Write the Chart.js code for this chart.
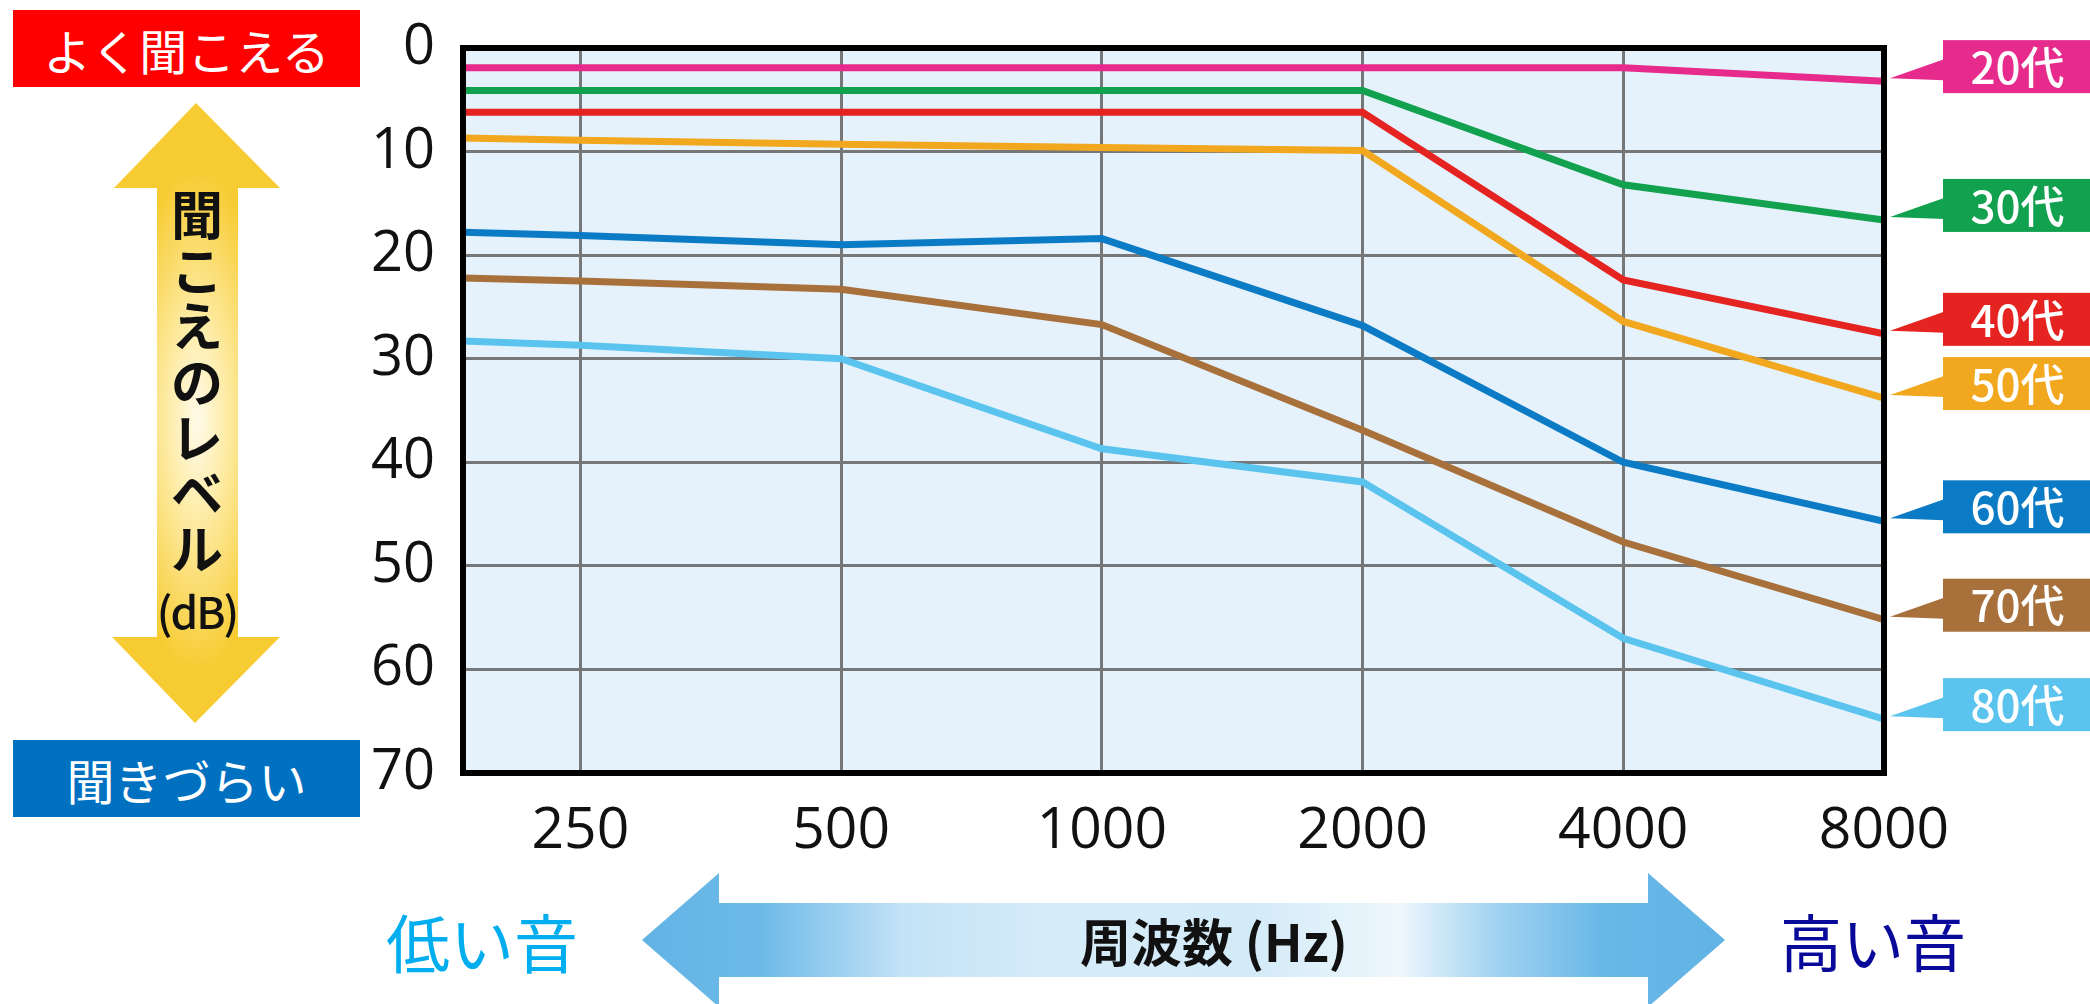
<!DOCTYPE html>
<html lang="ja">
<head>
<meta charset="utf-8">
<title>年代別の聞こえのレベル</title>
<script src="https://cdn.jsdelivr.net/npm/chart.js@4.4.1/dist/chart.umd.min.js"></script>
<style>
html,body{margin:0;padding:0;background:#fff;}
#stage{position:relative;width:2090px;height:1004px;overflow:hidden;font-family:"Noto Sans CJK JP","Noto Sans",sans-serif;}
#chart{position:absolute;left:0;top:0;}
svg.deco{position:absolute;left:0;top:0;}
.lbl{position:absolute;white-space:nowrap;line-height:1;transform:translate(-50%,-50%);}
.box{position:absolute;display:flex;align-items:center;justify-content:center;color:#fff;font-size:48px;line-height:1;}
.vcol{position:absolute;left:197px;top:185px;transform:translateX(-50%);display:flex;flex-direction:column;align-items:center;font-weight:700;color:#111;}
.vcol span{display:block;font-size:52px;line-height:55.7px;height:55.7px;}
.vcol span.unit{font-size:44px;font-weight:500;letter-spacing:-2px;margin-top:8px;}
</style>
</head>
<body>
<div id="stage">
  <svg class="deco" width="2090" height="1004" viewBox="0 0 2090 1004">
    <defs>
      <radialGradient id="yellowGrad" gradientUnits="userSpaceOnUse" cx="0" cy="0" r="1" gradientTransform="translate(197 420) scale(75 250)">
        <stop offset="0" stop-color="#fffbea"/>
        <stop offset="0.45" stop-color="#fde99c"/>
        <stop offset="1" stop-color="#f7cc33"/>
      </radialGradient>
      <linearGradient id="blueGrad" gradientUnits="userSpaceOnUse" x1="642" y1="0" x2="1725" y2="0">
        <stop offset="0" stop-color="#62b3e5"/>
        <stop offset="0.11" stop-color="#6dbae8"/>
        <stop offset="0.24" stop-color="#c3e2f6"/>
        <stop offset="0.38" stop-color="#d6ecf9"/>
        <stop offset="0.56" stop-color="#d3eaf8"/>
        <stop offset="0.70" stop-color="#eef7fc"/>
        <stop offset="0.79" stop-color="#a0d2f1"/>
        <stop offset="0.89" stop-color="#67b7e7"/>
        <stop offset="1" stop-color="#62b3e5"/>
      </linearGradient>
    </defs>
    <!-- vertical level arrow -->
    <polygon fill="url(#yellowGrad)" points="196,103 280,188 238,188 238,637 280,637 195,723 112,637 157,637 157,188 114,188"/>
    <!-- horizontal frequency arrow -->
    <polygon fill="url(#blueGrad)" points="642,940 719,873 719,903 1648,903 1648,873 1725,940 1648,1007 1648,977 719,977 719,1007"/>
  </svg>

  <canvas id="chart" width="2090" height="1004"></canvas>

  <div class="box" style="left:13px;top:10px;width:347px;height:77px;background:#ff0000;">よく聞こえる</div>
  <div class="box" style="left:13px;top:740px;width:347px;height:77px;background:#0070c0;">聞きづらい</div>

  <div class="vcol">
    <span>聞</span><span>こ</span><span>え</span><span>の</span><span>レ</span><span>ベ</span><span>ル</span><span class="unit">(dB)</span>
  </div>

  <div class="lbl" style="left:482px;top:940px;font-size:64px;color:#00aeef;">低い音</div>
  <div class="lbl" style="left:1873px;top:940px;font-size:62px;color:#0a0a9a;">高い音</div>
  <div class="lbl" style="left:1214px;top:940px;font-size:51px;font-weight:700;color:#111;">周波数 (Hz)</div>
</div>

<script>
// Frequency axis (Hz): tick labels and the frequencies where each curve was read
const freqTicks = [250, 500, 1000, 2000, 4000, 8000];
const freqStart = 183;              // left end of the frequency axis
const sampleFreqs = [183, 250, 500, 1000, 2000, 4000, 8000];

// Hearing level (dB) by age group, at sampleFreqs
const ageLabels = ['20代', '30代', '40代', '50代', '60代', '70代', '80代'];
const level20s = [1.9, 1.9, 1.9, 1.9, 1.9, 1.9, 3.2];
const level30s = [4.1, 4.1, 4.1, 4.1, 4.1, 13.2, 16.6];
const level40s = [6.2, 6.2, 6.2, 6.2, 6.2, 22.4, 27.6];
const level50s = [8.7, 8.9, 9.3, 9.6, 9.9, 26.4, 33.8];
const level60s = [17.8, 18.1, 19.0, 18.4, 26.8, 40.0, 45.7];
const level70s = [22.2, 22.5, 23.3, 26.7, 36.9, 47.7, 55.2];
const level80s = [28.3, 28.7, 30.0, 38.7, 41.9, 57.0, 64.8];

const levelTicks = [0, 10, 20, 30, 40, 50, 60, 70];

const seriesColors = ['#e62b8c', '#12a24f', '#e52421', '#f2a81e', '#0c7bc5', '#a8703b', '#5ac4ef'];
const allLevels = [level20s, level30s, level40s, level50s, level60s, level70s, level80s];

// octaves above 250 Hz
const octave = f => Math.log2(f / freqTicks[0]);

const datasets = ageLabels.map((label, i) => ({
  label,
  data: allLevels[i].map((v, k) => ({ x: octave(sampleFreqs[k]), y: v })),
  borderColor: seriesColors[i],
  backgroundColor: seriesColors[i],
  borderWidth: 7,
  pointRadius: 0,
  tension: 0,
  fill: false
}));

const plotBackground = {
  id: 'plotBackground',
  beforeDraw(chart) {
    const { ctx, chartArea: a } = chart;
    ctx.save();
    ctx.fillStyle = '#e5f2fb';
    ctx.fillRect(a.left, a.top, a.right - a.left, a.bottom - a.top);
    ctx.restore();
  }
};

const plotFrame = {
  id: 'plotFrame',
  afterDatasetsDraw(chart) {
    const { ctx, chartArea: a } = chart;
    ctx.save();
    ctx.strokeStyle = '#000';
    ctx.lineWidth = 6;
    ctx.strokeRect(a.left, a.top, a.right - a.left, a.bottom - a.top);
    ctx.restore();
  }
};

// age tags at the right end of each curve
const ageTags = {
  id: 'ageTags',
  afterDraw(chart) {
    const { ctx, chartArea: a } = chart;
    const tipX = a.right + 6;
    const boxL = a.right + 59;
    const boxR = chart.width;
    ctx.save();
    chart.data.datasets.forEach((ds, i) => {
      const meta = chart.getDatasetMeta(i);
      const last = meta.data[meta.data.length - 1];
      const tip = last.y - 4;
      ctx.fillStyle = ds.borderColor;
      ctx.beginPath();
      ctx.moveTo(tipX, tip + 1);
      ctx.lineTo(boxL + 1, tip - 18);
      ctx.lineTo(boxL + 1, tip + 3);
      ctx.closePath();
      ctx.fill();
      ctx.fillRect(boxL, tip - 37, boxR - boxL, 53);
      ctx.fillStyle = '#fff';
      ctx.font = '500 44px "Noto Sans CJK JP"';
      ctx.textAlign = 'center';
      ctx.textBaseline = 'middle';
      ctx.fillText(ds.label, (boxL + boxR) / 2 + 1, tip - 10);
    });
    ctx.restore();
  }
};

new Chart(document.getElementById('chart'), {
  type: 'line',
  data: { datasets },
  plugins: [plotBackground, plotFrame, ageTags],
  options: {
    responsive: false,
    devicePixelRatio: 1,
    animation: false,
    events: [],
    layout: { padding: { left: 0, top: 48, right: 206, bottom: 0 } },
    plugins: { legend: { display: false }, tooltip: { enabled: false } },
    scales: {
      x: {
        type: 'linear',
        position: 'bottom',
        min: octave(freqStart),
        max: octave(freqTicks[freqTicks.length - 1]),
        afterBuildTicks: s => { s.ticks = freqTicks.map(f => ({ value: octave(f) })); },
        afterFit: s => { s.height = 231; s.paddingLeft = 0; s.paddingRight = 0; },
        ticks: {
          autoSkip: false,
          maxRotation: 0,
          padding: 25,
          color: '#111',
          font: { family: '"Open Sans"', size: 57 },
          callback: (v, i) => String(freqTicks[i])
        },
        grid: { color: '#777', lineWidth: 3, drawTicks: false },
        border: { display: false }
      },
      y: {
        type: 'linear',
        reverse: true,
        min: levelTicks[0],
        max: levelTicks[levelTicks.length - 1],
        afterBuildTicks: s => { s.ticks = levelTicks.map(v => ({ value: v })); },
        afterFit: s => { s.width = 463; s.paddingTop = 0; s.paddingBottom = 0; },
        ticks: {
          padding: 28,
          color: '#111',
          font: { family: '"Open Sans"', size: 56 },
          callback: v => String(v)
        },
        grid: { color: '#777', lineWidth: 3, drawTicks: false },
        border: { display: false }
      }
    }
  }
});
</script>
</body>
</html>
